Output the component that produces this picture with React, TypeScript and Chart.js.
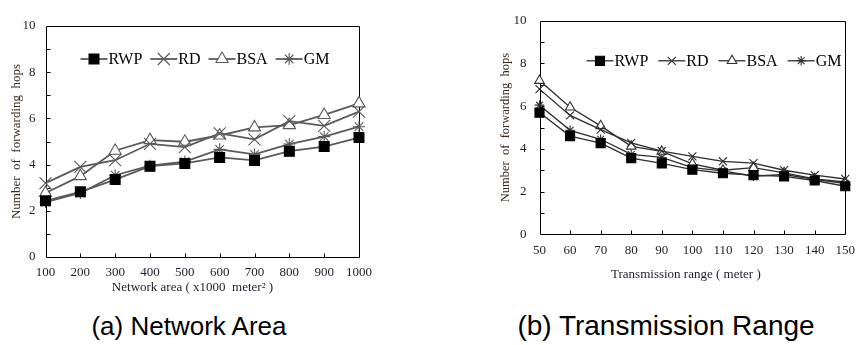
import React, { useEffect, useRef } from 'react';
import { Chart, registerables } from 'chart.js';

Chart.register(...registerables);

// ---------- data ----------
const SERIES_NAMES = ['RWP', 'RD', 'BSA', 'GM'];

const AREA_LABELS = ['100', '200', '300', '400', '500', '600', '700', '800', '900', '1000'];
const RWP_AREA = [2.43, 2.82, 3.35, 3.93, 4.05, 4.31, 4.18, 4.58, 4.78, 5.17];
const RD_AREA = [3.2, 3.9, 4.19, 4.9, 4.76, 5.35, 5.09, 5.88, 5.68, 6.29];
const BSA_AREA = [2.77, 3.5, 4.6, 5.06, 4.99, 5.26, 5.61, 5.71, 6.15, 6.65];
const GM_AREA = [2.38, 2.77, 3.54, 3.95, 4.13, 4.66, 4.44, 4.89, 5.21, 5.64];

const RANGE_LABELS = ['50', '60', '70', '80', '90', '100', '110', '120', '130', '140', '150'];
const RWP_RANGE = [5.7, 4.6, 4.27, 3.57, 3.32, 3.03, 2.86, 2.77, 2.71, 2.52, 2.25];
const RD_RANGE = [6.8, 5.57, 4.9, 4.28, 3.9, 3.65, 3.42, 3.33, 3.0, 2.77, 2.59];
const BSA_RANGE = [7.2, 5.95, 5.08, 4.12, 3.88, 3.3, 3.0, 3.12, 2.88, 2.6, 2.45];
const GM_RANGE = [6.05, 4.87, 4.45, 3.74, 3.6, 3.12, 2.97, 2.72, 2.8, 2.57, 2.38];

const Y_MIN = 0;
const Y_MAX = 10;
const Y_TITLE = 'Number  of  forwarding  hops';
const AREA_X_TITLE = 'Network area ( x1000  meter\u00B2 )\u00A0\u00A0\u00A0\u00A0\u00A0\u00A0';
const RANGE_X_TITLE = 'Transmission range ( meter )\u00A0\u00A0\u00A0\u00A0';
const CAPTION_A = '(a) Network Area';
const CAPTION_B = '(b) Transmission Range';

// ---------- drawing helpers ----------
const SERIF = '"Liberation Serif", "Times New Roman", serif';

function drawMarker(ctx: CanvasRenderingContext2D, style: string, x: number, y: number, r: number, fill: string, stroke: string, lw: number) {
  ctx.save();
  ctx.beginPath();
  ctx.lineWidth = lw;
  ctx.strokeStyle = stroke;
  ctx.fillStyle = fill;
  if (style === 'rect') {
    const s = Math.SQRT1_2 * r;
    ctx.rect(x - s, y - s, 2 * s, 2 * s);
    ctx.fill();
    ctx.stroke();
  } else if (style === 'triangle') {
    let rad = 0;
    ctx.moveTo(x + Math.sin(rad) * r, y - Math.cos(rad) * r);
    rad += (2 * Math.PI) / 3;
    ctx.lineTo(x + Math.sin(rad) * r, y - Math.cos(rad) * r);
    rad += (2 * Math.PI) / 3;
    ctx.lineTo(x + Math.sin(rad) * r, y - Math.cos(rad) * r);
    ctx.closePath();
    ctx.fill();
    ctx.stroke();
  } else if (style === 'crossRot') {
    const o = Math.cos(Math.PI / 4) * r;
    ctx.moveTo(x - o, y - o);
    ctx.lineTo(x + o, y + o);
    ctx.moveTo(x - o, y + o);
    ctx.lineTo(x + o, y - o);
    ctx.stroke();
  } else if (style === 'star') {
    const o = Math.cos(Math.PI / 4) * r;
    ctx.moveTo(x - o, y - o);
    ctx.lineTo(x + o, y + o);
    ctx.moveTo(x - o, y + o);
    ctx.lineTo(x + o, y - o);
    ctx.moveTo(x, y - r);
    ctx.lineTo(x, y + r);
    ctx.moveTo(x - r, y);
    ctx.lineTo(x + r, y);
    ctx.stroke();
  }
  ctx.restore();
}

const framePlugin = {
  id: 'frame',
  beforeDatasetsDraw(chart: any) {
    const { ctx, chartArea: a, scales } = chart;
    const L = Math.round(a.left) + 0.5;
    const R = Math.round(a.right) + 0.5;
    const T = Math.round(a.top) + 0.5;
    const B = Math.round(a.bottom) + 0.5;
    ctx.save();
    ctx.strokeStyle = '#000';
    ctx.lineWidth = 1;
    ctx.beginPath();
    ctx.rect(L, T, R - L, B - T);
    ctx.stroke();
    ctx.beginPath();
    for (let v = Y_MIN + 1; v < Y_MAX; v++) {
      const py = Math.round(scales.y.getPixelForValue(v)) + 0.5;
      ctx.moveTo(L, py);
      ctx.lineTo(L + 4, py);
    }
    const n = chart.data.labels.length;
    for (let i = 1; i < n - 1; i++) {
      const px = Math.round(scales.x.getPixelForValue(i)) + 0.5;
      ctx.moveTo(px, B);
      ctx.lineTo(px, B - 4);
    }
    ctx.stroke();
    ctx.restore();
  },
};

const legendPlugin = {
  id: 'lineLegend',
  afterDatasetsDraw(chart: any, _args: any, opts: any) {
    const { ctx, chartArea: a } = chart;
    ctx.save();
    ctx.font = `${opts.fontSize}px ${SERIF}`;
    ctx.textBaseline = 'middle';
    ctx.textAlign = 'left';
    let x = a.left + opts.dx;
    const y = a.top + opts.dy;
    chart.data.datasets.forEach((ds: any) => {
      ctx.strokeStyle = ds.borderColor;
      ctx.lineWidth = ds.borderWidth;
      ctx.beginPath();
      ctx.moveTo(x, y);
      ctx.lineTo(x + opts.lineLen, y);
      ctx.stroke();
      drawMarker(ctx, ds.pointStyle, x + opts.lineLen / 2, y, ds.pointRadius, ds.pointBackgroundColor, ds.pointBorderColor, ds.pointBorderWidth);
      ctx.fillStyle = '#000';
      const tx = x + opts.lineLen + 1;
      ctx.fillText(ds.label, tx, y + 0.5);
      x = tx + ctx.measureText(ds.label).width + opts.gap;
    });
    ctx.restore();
  },
};

type Look = {
  lineColor: string;
  lineWidth: number;
  radii: number[];
};

function makeDatasets(values: number[][], look: Look) {
  const styles = ['rect', 'crossRot', 'triangle', 'star'];
  const fills = ['#000', '#fff', '#fff', '#fff'];
  const strokes = ['#000', look.lineColor, look.lineColor, look.lineColor];
  return values.map((data, i) => ({
    label: SERIES_NAMES[i],
    data,
    borderColor: look.lineColor,
    borderWidth: look.lineWidth,
    pointStyle: styles[i],
    pointRadius: look.radii[i],
    pointBackgroundColor: fills[i],
    pointBorderColor: strokes[i],
    pointBorderWidth: 1.1,
    tension: 0,
    fill: false,
  }));
}

type PanelProps = {
  left: number;
  width: number;
  height: number;
  labels: string[];
  values: number[][];
  look: Look;
  padding: { left: number; top: number; right: number; bottom: number };
  yWidth: number;
  xHeight: number;
  yTitleSize: number;
  xTitle: string;
  xTitlePadBottom: number;
  yTickPad: number;
  xTickPad: number;
  legend: { dx: number; dy: number; gap: number; lineLen: number; fontSize: number };
};

function Panel(p: PanelProps) {
  const ref = useRef<HTMLCanvasElement | null>(null);
  useEffect(() => {
    if (!ref.current) return;
    const chart = new Chart(ref.current, {
      type: 'line',
      data: { labels: p.labels, datasets: makeDatasets(p.values, p.look) as any },
      plugins: [framePlugin, legendPlugin],
      options: {
        responsive: false,
        maintainAspectRatio: false,
        animation: false,
        devicePixelRatio: 1,
        layout: { padding: p.padding },
        plugins: {
          legend: { display: false },
          tooltip: { enabled: false },
          lineLegend: p.legend,
        } as any,
        scales: {
          x: {
            type: 'category',
            offset: false,
            grid: { display: false, drawTicks: false },
            border: { display: false },
            ticks: {
              autoSkip: false,
              maxRotation: 0,
              padding: p.xTickPad,
              color: '#1c1f2a',
              font: { family: SERIF, size: 13 },
            },
            title: {
              display: true,
              text: p.xTitle,
              color: '#1c1f2a',
              font: { family: SERIF, size: 13 },
              padding: { top: 0, bottom: p.xTitlePadBottom },
            },
            afterFit: (s: any) => {
              s.height = p.xHeight;
            },
          },
          y: {
            type: 'linear',
            min: Y_MIN,
            max: Y_MAX,
            grid: { display: false, drawTicks: false },
            border: { display: false },
            ticks: {
              stepSize: 1,
              padding: p.yTickPad,
              color: '#2a2018',
              font: { family: SERIF, size: 13 },
              callback: (v: any) => (Number(v) % 2 === 0 ? String(v) : ''),
            },
            title: {
              display: true,
              text: Y_TITLE,
              color: '#3a2a1c',
              font: { family: SERIF, size: p.yTitleSize },
              padding: { top: 0, bottom: 0 },
            },
            afterFit: (s: any) => {
              s.width = p.yWidth;
            },
          },
        },
      } as any,
    });
    return () => chart.destroy();
  }, []);
  return (
    <canvas
      ref={ref}
      width={p.width}
      height={p.height}
      style={{ position: 'absolute', left: p.left, top: 0, width: p.width, height: p.height }}
    />
  );
}

const captionStyle: React.CSSProperties = {
  position: 'absolute',
  fontFamily: '"Liberation Sans", Arial, sans-serif',
  color: '#000',
  whiteSpace: 'nowrap',
  transform: 'translate(-50%, -50%)',
};

export default function App() {
  return (
    <div style={{ position: 'fixed', left: 0, top: 0, width: 863, height: 345, background: '#fff', overflow: 'hidden' }}>
      <Panel
        left={0}
        width={380}
        height={300}
        labels={AREA_LABELS}
        values={[RWP_AREA, RD_AREA, BSA_AREA, GM_AREA]}
        look={{ lineColor: '#5a5a5a', lineWidth: 1.8, radii: [7, 8.5, 7, 6] }}
        padding={{ left: 9, top: 26, right: 19.5, bottom: 0 }}
        yWidth={36.5}
        xHeight={43}
        yTitleSize={13}
        xTitle={AREA_X_TITLE}
        xTitlePadBottom={5}
        yTickPad={10}
        xTickPad={8}
        legend={{ dx: 35, dy: 33, gap: 8, lineLen: 27, fontSize: 16 }}
      />
      <Panel
        left={440}
        width={423}
        height={300}
        labels={RANGE_LABELS}
        values={[RWP_RANGE, RD_RANGE, BSA_RANGE, GM_RANGE]}
        look={{ lineColor: '#2e2e2e', lineWidth: 1.3, radii: [6.4, 5.7, 5.5, 4.8] }}
        padding={{ left: 58.5, top: 12, right: 10.5, bottom: 10.7 }}
        yWidth={41}
        xHeight={55}
        yTitleSize={12.5}
        xTitle={RANGE_X_TITLE}
        xTitlePadBottom={6.5}
        yTickPad={13}
        xTickPad={8}
        legend={{ dx: 47, dy: 40, gap: 10, lineLen: 27, fontSize: 16 }}
      />
      <div style={{ ...captionStyle, left: 189, top: 326, fontSize: 26 }}>{CAPTION_A}</div>
      <div style={{ ...captionStyle, left: 666, top: 326, fontSize: 28 }}>{CAPTION_B}</div>
    </div>
  );
}
